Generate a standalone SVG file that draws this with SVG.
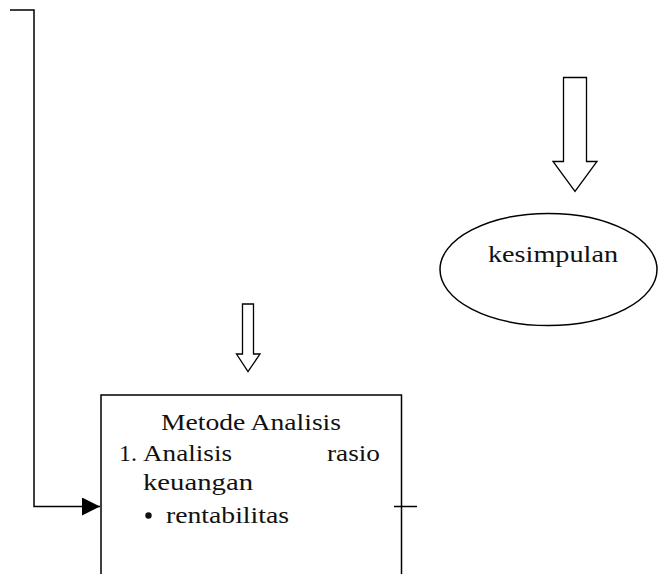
<svg xmlns="http://www.w3.org/2000/svg" width="658" height="574" viewBox="0 0 658 574">
  <style>
    .ln { fill: none; stroke: #000; stroke-width: 1.5; }
    .blk { fill: #fff; stroke: #000; stroke-width: 1.3; stroke-linejoin: miter; }
    .tx { font-family: "Liberation Serif", serif; font-size: 24px; fill: #111; }
  </style>
  <defs>
    <marker id="tri" viewBox="0 0 18 18" refX="18" refY="9" markerWidth="18" markerHeight="18" markerUnits="userSpaceOnUse" orient="auto">
      <path d="M0,0 L18,9 L0,18 Z" fill="#000"/>
    </marker>
  </defs>

  <!-- conclusion ellipse -->
  <g id="kesimpulan">
    <ellipse cx="548.5" cy="269.5" rx="108.5" ry="56" fill="#fff" stroke="#000" stroke-width="1.5"/>
    <text class="tx" x="488" y="262" textLength="130" lengthAdjust="spacingAndGlyphs">kesimpulan</text>
  </g>

  <!-- analysis method box -->
  <g id="metode-analisis">
    <rect x="101" y="395" width="300.5" height="190" fill="#fff" stroke="#000" stroke-width="1.5"/>
    <text class="tx" x="161" y="430" textLength="180" lengthAdjust="spacingAndGlyphs">Metode Analisis</text>
    <text class="tx" x="119" y="461" textLength="18" lengthAdjust="spacingAndGlyphs">1.</text>
    <text class="tx" x="143" y="461" textLength="89" lengthAdjust="spacingAndGlyphs">Analisis</text>
    <text class="tx" x="327" y="461" textLength="53" lengthAdjust="spacingAndGlyphs">rasio</text>
    <text class="tx" x="143" y="490" textLength="110" lengthAdjust="spacingAndGlyphs">keuangan</text>
    <circle cx="148.5" cy="515.5" r="3.2" fill="#111"/>
    <text class="tx" x="166" y="523" textLength="123" lengthAdjust="spacingAndGlyphs">rentabilitas</text>
  </g>

  <!-- connectors -->
  <g id="connectors">
    <polyline class="ln" points="10,10 34,10 34,506.5 100,506.5" marker-end="url(#tri)"/>
    <line class="ln" x1="394" y1="506.5" x2="417" y2="506.5"/>
    <!-- block arrows -->
    <path class="blk" d="M563.5,77.5 H586.5 V161.5 H597 L575,191.5 L553,161.5 H563.5 Z"/>
    <path class="blk" d="M242.5,304 H253.5 V354 H260 L248,371.5 L236.5,354 H242.5 Z"/>
  </g>
</svg>
